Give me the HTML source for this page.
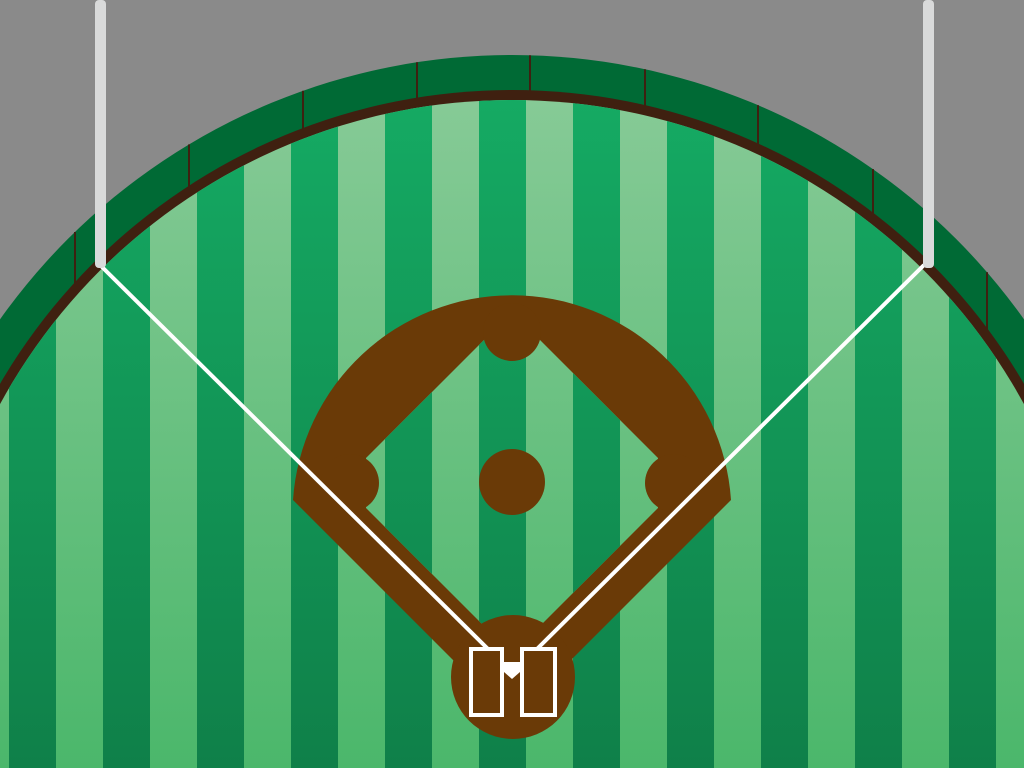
<!DOCTYPE html>
<html><head><meta charset="utf-8"><style>html,body{margin:0;padding:0;background:#8a8a8a;overflow:hidden;width:1024px;height:768px}svg{display:block}</style></head>
<body>
<svg id="field" width="1024" height="768" viewBox="0 0 1024 768" xmlns="http://www.w3.org/2000/svg">
<defs>
<linearGradient id="gDark" gradientUnits="userSpaceOnUse" x1="0" y1="100" x2="0" y2="768"><stop offset="0" stop-color="#15aa63"/><stop offset="1" stop-color="#0f8049"/></linearGradient>
<linearGradient id="gLight" gradientUnits="userSpaceOnUse" x1="0" y1="100" x2="0" y2="768"><stop offset="0" stop-color="#86ca96"/><stop offset="1" stop-color="#4bb76b"/></linearGradient>
<clipPath id="grassClip"><circle cx="512" cy="683" r="583"/></clipPath>
<clipPath id="infClip"><polygon points="366,458 485,339 539,339 658,458 658,508 512,654 366,508"/></clipPath>
</defs>
<rect x="0" y="0" width="1024" height="768" fill="#8a8a8a"/>
<circle cx="512" cy="683" r="628" fill="#006a35"/>
<g id="dividers"></g>
<circle cx="512" cy="683" r="593" fill="#3f2010"/>
<g id="stripes" clip-path="url(#grassClip)"></g>
<path d="M293,500 A219.5,219.5 0 0 1 731,500 L512,719 Z" fill="#6a3a07"/>
<polygon points="366,458 485,339 539,339 658,458 658,508 512,654 366,508" fill="url(#gLight)"/>
<rect x="479" y="300" width="47" height="400" fill="url(#gDark)" clip-path="url(#infClip)"/>
<rect x="385" y="300" width="47" height="400" fill="url(#gDark)" clip-path="url(#infClip)"/>
<rect x="573" y="300" width="47" height="400" fill="url(#gDark)" clip-path="url(#infClip)"/>
<circle cx="512" cy="332" r="29" fill="#6a3a07"/>
<circle cx="350" cy="483" r="29" fill="#6a3a07"/>
<circle cx="674" cy="483" r="29" fill="#6a3a07"/>
<circle cx="512" cy="482" r="33" fill="#6a3a07"/>
<circle cx="513" cy="677" r="62" fill="#6a3a07"/>
<line x1="100" y1="265" x2="488" y2="649" stroke="#fff" stroke-width="4"/>
<line x1="924" y1="265" x2="537" y2="649" stroke="#fff" stroke-width="4"/>
<rect x="471" y="649" width="31" height="66" fill="#6a3a07" stroke="#fff" stroke-width="4"/>
<rect x="522" y="649" width="33" height="66" fill="#6a3a07" stroke="#fff" stroke-width="4"/>
<polygon points="504,662 520,662 520,672 512,679 504,672" fill="#fff"/>
<rect x="95" y="0" width="11" height="268" rx="4" fill="#d9dada"/>
<rect x="923" y="0" width="11" height="268" rx="4" fill="#d9dada"/>
</svg>
<script>
const stripeStarts = [9,103,197,291,385,479,573,667,761,855,949];
const dividerXs = [75,189,303,417,530,645,758,873,987];
const NS='http://www.w3.org/2000/svg';
const CX=512, CY=683, R_OUT=628, R_IN=593;
const sg=document.getElementById('stripes');
const bg=document.createElementNS(NS,'rect');
bg.setAttribute('x',0);bg.setAttribute('y',0);bg.setAttribute('width',1024);bg.setAttribute('height',768);bg.setAttribute('fill','url(#gLight)');


sg.appendChild(bg);
stripeStarts.forEach(x=>{
  const r=document.createElementNS(NS,'rect');
  r.setAttribute('x',x);r.setAttribute('y',0);r.setAttribute('width',47);r.setAttribute('height',768);r.setAttribute('fill','url(#gDark)');
  
  
  sg.appendChild(r);
});
const dg=document.getElementById('dividers');
dividerXs.forEach(x=>{
  const dx=x-CX;
  const y1=CY-Math.sqrt(R_OUT*R_OUT-dx*dx);
  const y2=CY-Math.sqrt(R_IN*R_IN-dx*dx)+3;
  const l=document.createElementNS(NS,'line');
  l.setAttribute('x1',x);l.setAttribute('y1',y1);
  l.setAttribute('x2',x);l.setAttribute('y2',y2);
  l.setAttribute('stroke','#3f2010');l.setAttribute('stroke-width','2');
  
  
  dg.appendChild(l);
});
</script>
</body></html>
